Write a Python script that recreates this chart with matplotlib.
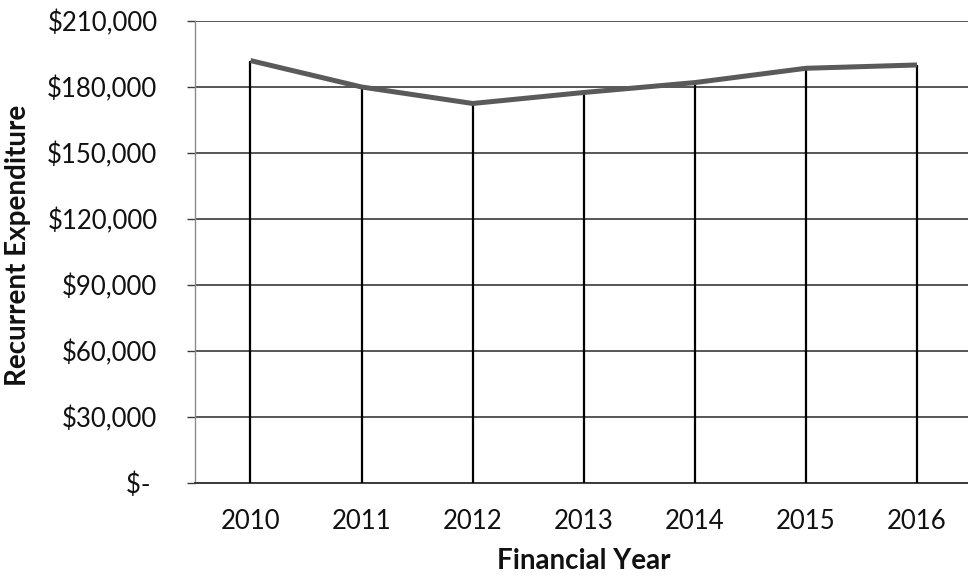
import matplotlib.pyplot as plt
from matplotlib.ticker import FuncFormatter

# Recurrent expenditure by financial year
years = [2010, 2011, 2012, 2013, 2014, 2015, 2016]
expenditure = [192000, 180000, 172500, 177500, 182000, 188500, 190000]
y_ticks = [0, 30000, 60000, 90000, 120000, 150000, 180000, 210000]

plt.rcParams['font.family'] = ['Lato', 'DejaVu Sans']

fig = plt.figure(figsize=(9.68, 5.78), dpi=100)
ax = fig.add_axes([0.2014, 0.1644, 0.8033, 0.7993])

# drop lines from each point down to the axis
ax.vlines(years, 0, expenditure, color='black', lw=1.6, zorder=3)
ax.plot(years, expenditure, color='#5a5a5a', lw=3.6, solid_capstyle='butt',
        solid_joinstyle='miter', zorder=4)

ax.set_xlim(2009.5, 2016.5)
ax.set_ylim(0, 210000)
ax.set_yticks(y_ticks)
ax.set_xticks(years)


def money(v, pos):
    if v == 0:
        return '$- '
    return '${:,.0f}'.format(v)


ax.yaxis.set_major_formatter(FuncFormatter(money))
ax.grid(axis='y', color='#3a3a3a', lw=1.2, zorder=1)
ax.set_axisbelow(True)

for s in ['top', 'right']:
    ax.spines[s].set_visible(False)
ax.spines['left'].set_color('#8a8a8a')
ax.spines['left'].set_linewidth(1.0)
ax.spines['bottom'].set_color('#3a3a3a')
ax.spines['bottom'].set_linewidth(1.4)

ax.tick_params(axis='y', length=6, width=1.0, color='#3a3a3a', pad=21,
               labelsize=18.5, labelcolor='#111111')
ax.tick_params(axis='x', length=0, pad=19, labelsize=18.5, labelcolor='#111111')

ax.set_ylabel('Recurrent Expenditure', fontsize=20, fontweight='bold',
              color='#111111')
ax.set_xlabel('Financial Year', fontsize=20, fontweight='bold',
              color='#111111')
ax.yaxis.set_label_coords(-0.211, 0.515)
ax.xaxis.set_label_coords(0.5, -0.141)

fig.savefig('out.png', dpi=100)
